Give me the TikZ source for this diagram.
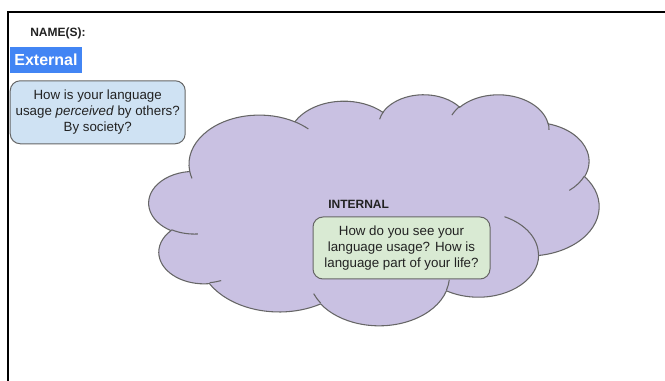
\documentclass[tikz,border=0pt]{standalone}
\usepackage{fontspec}
\setmainfont{Liberation Sans}
\usetikzlibrary{positioning}

\definecolor{cloudfill}{RGB}{201,193,226}
\definecolor{outline}{RGB}{102,102,102}
\definecolor{extblue}{RGB}{66,133,244}
\definecolor{lightblue}{RGB}{207,226,243}
\definecolor{lightgreen}{RGB}{217,234,211}
\definecolor{ink}{RGB}{34,34,34}

\begin{document}
\begin{tikzpicture}[x=0.75pt,y=-0.75pt,font=\fontsize{10}{12}\selectfont]
\tikzstyle{heading}=[font=\fontsize{9}{11}\selectfont\bfseries, text=ink, inner sep=0pt, anchor=west]
\tikzstyle{tag}=[fill=extblue, text=white, font=\fontsize{12}{14}\selectfont\bfseries, minimum width=54pt, minimum height=19.5pt, inner sep=0pt]
\tikzstyle{bubble}=[draw=outline, line width=0.75pt, rounded corners=7.5pt, align=center, text=ink, inner sep=2pt]
\tikzstyle{puff}=[fill=cloudfill, draw=outline, line width=0.8pt]
\tikzstyle{crease}=[draw=outline, line width=0.8pt]
\useasboundingbox (0,0) rectangle (665,381);

% sheet border (only top and left edge are on the page)
\draw[line width=1.9pt] (8,390) -- (8,12) -- (675,12);

% the cloud: eleven elliptic puffs, angles are given as seen on the page
\begin{scope}[shift={(149,94)}, x=1pt, y=1pt, xscale=0.078125, yscale=-0.0401042]
\path[puff] (390,1437)
  \foreach \w/\h/\s/\d [evaluate=\s as \ta using {atan2(\w*sin(\s),\h*cos(\s))},
                        evaluate=\d as \tb using {mod(atan2(\w*sin(\s+\d),\h*cos(\s+\d))-\ta+720,360)}] in
    {675.3/919.0/-190.48748/123.78053, 533.3/726.7/-144.10238/89.94523,
     436.5/594.5/-145.80792/99.72302, 485.7/659.5/-130.98607/117.24173,
     533.3/727.3/-78.70888/109.02692, 677.5/922.0/-46.26725/130.269,
     578.5/786.7/0.62502/114.03333, 675.2/921.5/22.4516/115.17255,
     772.0/1054.3/66.24263/75.71102, 436.0/591.8/-274.94208/146.73557,
     434.5/594.5/-246.8285/152.51885}
  { arc[start angle=\ta, delta angle=\tb, x radius=\w pt, y radius=\h pt] } -- cycle;
% inner creases between the puffs
\foreach \px/\py/\w/\h/\s/\d [evaluate=\s as \ta using {atan2(\w*sin(\s),\h*cos(\s))},
                              evaluate=\d as \tb using {mod(atan2(\w*sin(\s+\d),\h*cos(\s+\d))-\ta+720,360)}] in
    {469.3/2617.7/434.5/594.5/86.742/26.4295, 692.8/3489.9/436.0/591.8/73.61047/11.44747,
     1647.8/3909.0/675.2/921.5/137.62415/14.0811, 2882.7/3475.1/675.2/921.5/6.45327/15.99835,
     3412.9/2295.4/578.5/786.7/-70.29235/70.91737, 4179.8/1535.4/533.3/727.3/30.31803/27.7515,
     3832.4/542.6/485.7/659.5/-13.74433/14.8589, 2907.8/395.2/485.7/659.5/-149.18145/18.19537,
     2214.1/472.0/436.5/594.5/-163.49427/17.68635, 1400.0/519.2/675.3/919.0/-66.70695/12.31935,
     412.7/1578.9/675.3/919.0/157.65435/11.85817}
  \draw[crease] (\px,\py) arc[start angle=\ta, delta angle=\tb, x radius=\w pt, y radius=\h pt];
\end{scope}

\node (name) at (30,33) [heading] {NAME(S):};
\node (ext) at (46,60) [tag] {External};
\node (perc) [bubble, fill=lightblue, minimum width=131.25pt, minimum height=47.25pt,
  below right=5.25pt and 0pt of ext.south west] {How is your language\\usage \emph{perceived} by others?\\By society?};

\node (inner) at (401.5,248) [bubble, fill=lightgreen, minimum width=132.75pt, minimum height=46.5pt]
  {How do you see your\\language usage? How is\\language part of your life?};
\node (internal) at (328,204) [heading] {INTERNAL};
\end{tikzpicture}
\end{document}
